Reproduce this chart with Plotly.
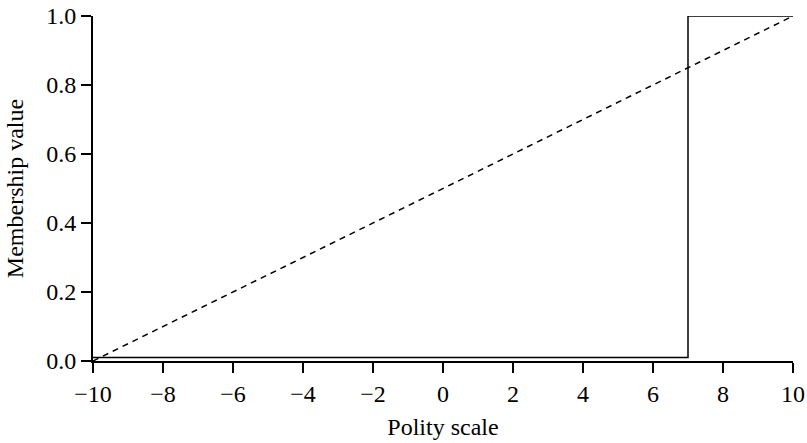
import plotly.graph_objects as go

step_x = [-10, 7, 7, 10]
step_y = [0.01, 0.01, 1.0, 1.0]
lin_x = [-10, 10]
lin_y = [0.0, 1.0]
x_ticks = [-10, -8, -6, -4, -2, 0, 2, 4, 6, 8, 10]
y_ticks = [0.0, 0.2, 0.4, 0.6, 0.8, 1.0]

FONT = "Liberation Serif"
FS = 24

fig = go.Figure()
fig.add_trace(go.Scatter(x=step_x, y=step_y, mode="lines",
                         line=dict(color="black", width=1.5), cliponaxis=False))
fig.add_trace(go.Scatter(x=lin_x, y=lin_y, mode="lines",
                         line=dict(color="black", width=1.5, dash="6px,5px"), cliponaxis=False))

fig.update_layout(
    width=807, height=443,
    margin=dict(l=93, r=14, t=16, b=82),
    paper_bgcolor="white", plot_bgcolor="white",
    showlegend=False,
    font=dict(family=FONT, size=FS, color="black"),
)
fig.update_xaxes(range=[-10, 10], tickvals=x_ticks, ticks="outside", ticklen=10,
                 tickwidth=2, tickcolor="black", showline=True, linecolor="black",
                 linewidth=2, showgrid=False, zeroline=False, automargin=False,
                 ticklabeloverflow="allow",
                 tickfont=dict(family=FONT, size=FS, color="black"),
                 title=dict(text="Polity scale", standoff=12,
                            font=dict(family=FONT, size=FS, color="black")))
fig.update_yaxes(range=[0, 1], tickvals=y_ticks, tickformat=".1f", ticks="outside",
                 ticklen=10, tickwidth=2, tickcolor="black", showline=True,
                 linecolor="black", linewidth=2, showgrid=False, zeroline=False,
                 automargin=False, ticklabeloverflow="allow",
                 tickfont=dict(family=FONT, size=FS, color="black"),
                 title=dict(text="Membership value", standoff=16,
                            font=dict(family=FONT, size=FS, color="black")))

fig.write_html("out.html", config={"displayModeBar": False},
               post_script="document.body.style.margin='0';document.body.style.overflow='hidden';")
